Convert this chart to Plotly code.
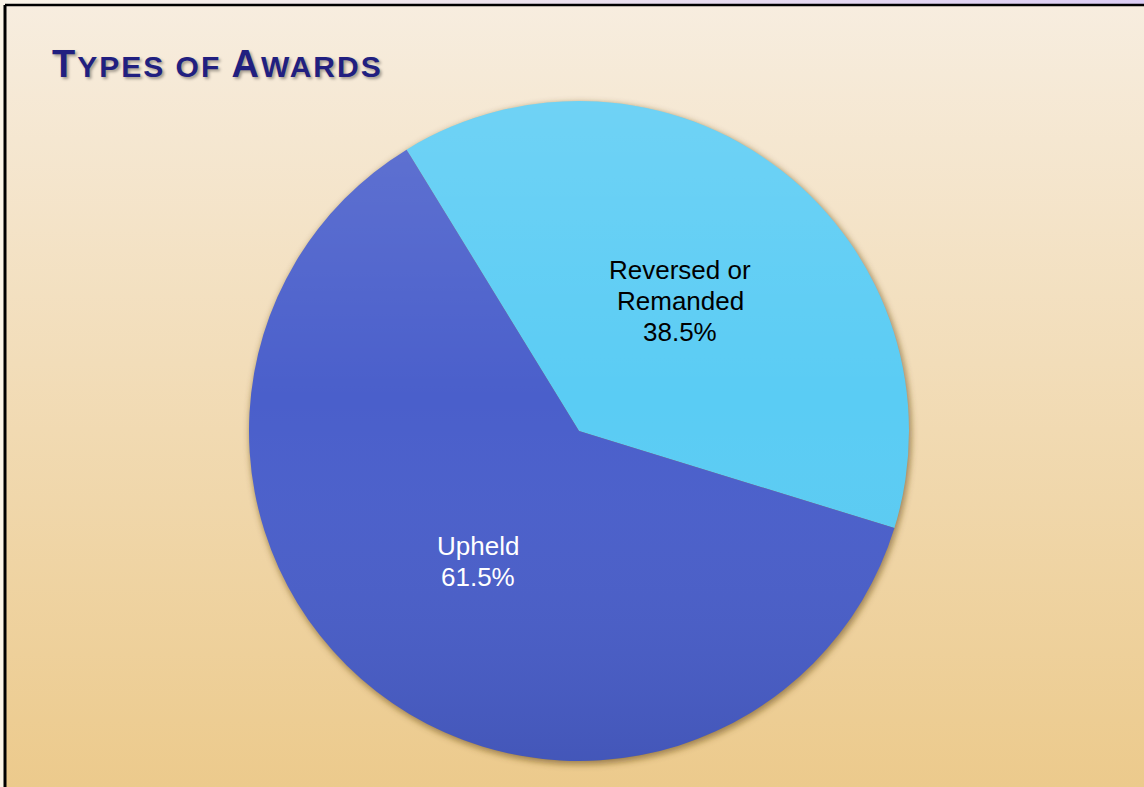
import base64
import math
import plotly.graph_objects as go

labels = ["Reversed or<br>Remanded", "Upheld"]
values = [38.5, 61.5]
colors = ["#5accf4", "#4a5fcb"]
text_colors = ["#000000", "#ffffff"]
start_angle = -31.5  # degrees clockwise from 12 o'clock

W, H = 1144, 787
cx, cy, r = 579, 431, 330

svg = f'''<svg xmlns="http://www.w3.org/2000/svg" width="{W}" height="{H}" viewBox="0 0 {W} {H}" preserveAspectRatio="none">
<defs>
<linearGradient id="g" x1="0" y1="0" x2="0" y2="1">
<stop offset="0" stop-color="#f7eddf"/>
<stop offset="1" stop-color="#ecca8c"/>
</linearGradient>
<linearGradient id="t" x1="0" y1="0" x2="1" y2="0">
<stop offset="0" stop-color="#fbf4e8"/>
<stop offset="1" stop-color="#dccdf4"/>
</linearGradient>
<filter id="b" x="-10%" y="-10%" width="120%" height="120%"><feGaussianBlur stdDeviation="3"/></filter>
</defs>
<rect x="0" y="0" width="{W}" height="{H}" fill="#fcf5e7"/>
<rect x="0" y="0" width="{W}" height="4" fill="url(#t)"/>
<rect x="6" y="6" width="{W-6}" height="{H-6}" fill="url(#g)"/>
<line x1="5" y1="5" x2="{W}" y2="5" stroke="#000" stroke-width="2.5"/>
<line x1="5" y1="5" x2="5" y2="{H}" stroke="#000" stroke-width="3"/>
<circle cx="{cx+1.5}" cy="{cy+2.5}" r="{r+1}" fill="rgba(95,70,25,0.55)" filter="url(#b)"/>
</svg>'''
bg = "data:image/svg+xml;base64," + base64.b64encode(svg.encode()).decode()

ov = f'''<svg xmlns="http://www.w3.org/2000/svg" width="{2*r}" height="{2*r}" viewBox="0 0 {2*r} {2*r}">
<defs><linearGradient id="s" x1="0" y1="0" x2="0" y2="1">
<stop offset="0" stop-color="#ffffff" stop-opacity="0.13"/>
<stop offset="0.45" stop-color="#ffffff" stop-opacity="0"/>
<stop offset="1" stop-color="#000000" stop-opacity="0.09"/>
</linearGradient></defs>
<circle cx="{r}" cy="{r}" r="{r}" fill="url(#s)"/>
</svg>'''
ov_src = "data:image/svg+xml;base64," + base64.b64encode(ov.encode()).decode()

dom_x = [(cx - r) / W, (cx + r) / W]
dom_y = [1 - (cy + r) / H, 1 - (cy - r) / H]

fig = go.Figure()
fig.add_trace(go.Pie(
    labels=labels,
    values=values,
    sort=False,
    direction="clockwise",
    rotation=start_angle,
    marker=dict(colors=colors, line=dict(color="rgba(0,0,0,0)", width=0)),
    textinfo="none",
    hoverinfo="label+percent",
    showlegend=False,
    domain=dict(x=dom_x, y=dom_y),
))

# labels at half radius along each slice's mid angle, one annotation per line
line_h = 31
total = sum(values)
acc = 0.0
for lab, v, tc in zip(labels, values, text_colors):
    mid = start_angle + 360 * (acc + v / 2) / total
    acc += v
    px = cx + 0.5 * r * math.sin(math.radians(mid))
    py = cy - 0.5 * r * math.cos(math.radians(mid))
    lines = lab.split("<br>") + [f"{v:.1f}%"]
    n = len(lines)
    for i, ln in enumerate(lines):
        fig.add_annotation(
            text=ln, xref="paper", yref="paper",
            x=px / W, y=1 - py / H, yshift=((n - 1) / 2 - i) * line_h,
            xanchor="center", yanchor="middle", showarrow=False,
            font=dict(family="Liberation Sans, Arial, sans-serif", size=26, color=tc),
        )

ls = "letter-spacing:2px"
title = (f"<b><span style='{ls}'>T</span><span style='font-size:30px;{ls}'>YPES OF </span>"
         f"<span style='{ls}'>A</span><span style='font-size:30px;{ls}'>WARDS</span></b>")
fig.add_annotation(
    text=title, xref="paper", yref="paper", x=50 / W, y=1 - 64 / H,
    xanchor="left", yanchor="middle", showarrow=False,
    font=dict(family="Liberation Sans, Arial, sans-serif", size=38, color="#211f80",
              shadow="2px 2px 3px rgba(0,0,0,0.35)"),
)

fig.update_layout(
    width=W, height=H,
    margin=dict(l=0, r=0, t=0, b=0),
    paper_bgcolor="#f3e2c0",
    plot_bgcolor="rgba(0,0,0,0)",
    images=[
        dict(source=bg, xref="paper", yref="paper", x=0, y=1, sizex=1, sizey=1,
             xanchor="left", yanchor="top", sizing="stretch", layer="below"),
        dict(source=ov_src, xref="paper", yref="paper", x=dom_x[0], y=dom_y[1],
             sizex=dom_x[1] - dom_x[0], sizey=dom_y[1] - dom_y[0],
             xanchor="left", yanchor="top", sizing="stretch", layer="above"),
    ],
)

fig.write_html("out.html", config={"displayModeBar": False},
               post_script="document.body.style.margin='0';document.body.style.overflow='hidden';")
